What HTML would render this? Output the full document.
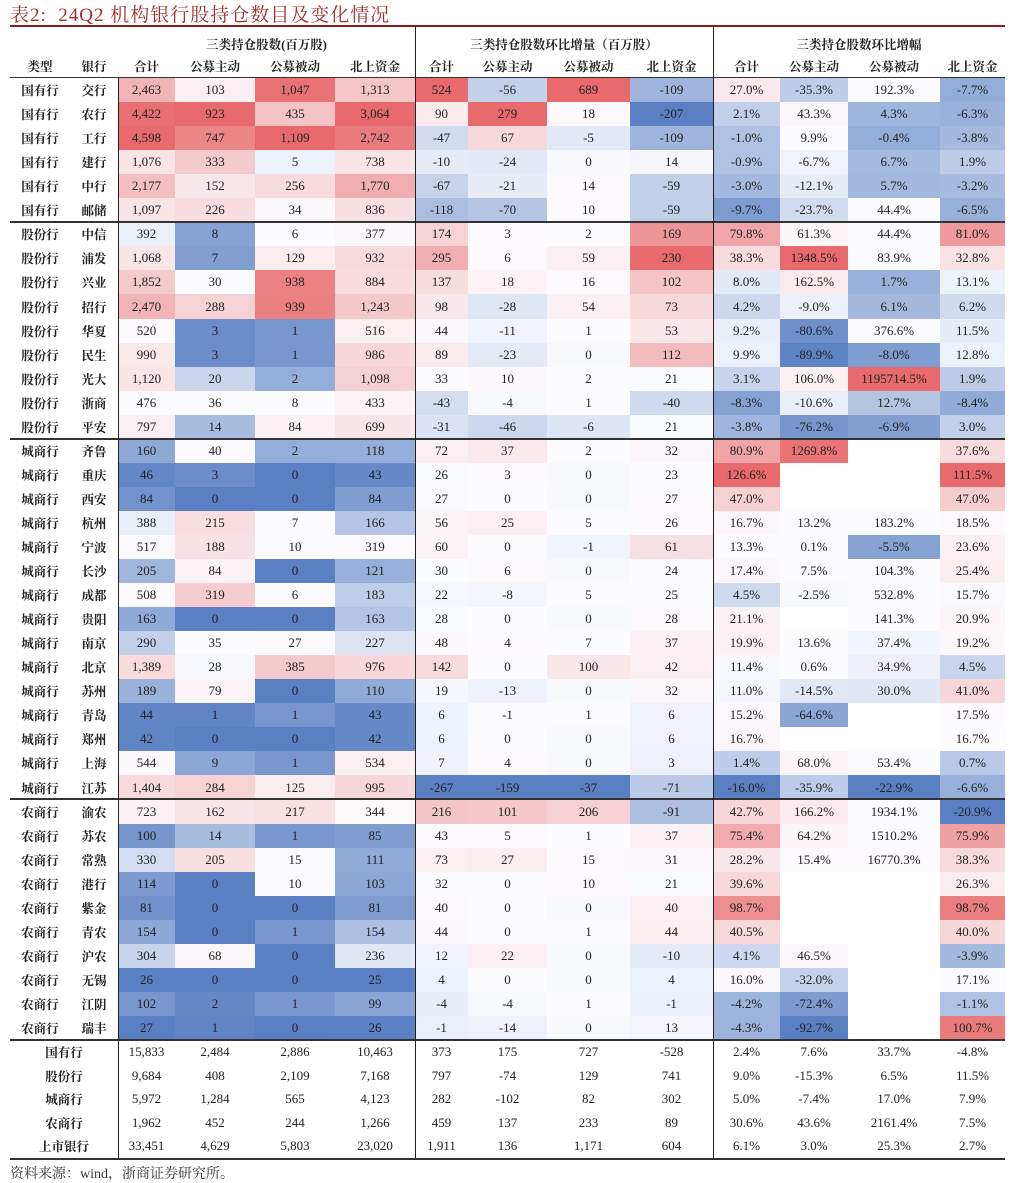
<!DOCTYPE html>
<html><head><meta charset="utf-8">
<style>
body{margin:0;background:#fff;width:1024px;height:1182px;position:relative;overflow:hidden;font-family:"Liberation Serif","Noto Serif CJK SC",serif;}
.t{position:absolute;left:10px;top:0;font-size:19px;color:#a0302e;font-family:"Liberation Serif","Noto Serif CJK SC",serif;letter-spacing:1px}
.c{position:absolute;display:flex;align-items:center;justify-content:center;font-size:13px;color:#222;white-space:nowrap}
.h{font-family:"Liberation Serif","Noto Serif CJK SC",serif;font-weight:bold;font-size:12.5px;color:#222}
.l{position:absolute;background:#222}
</style></head><body>
<div class="t">表2:&nbsp; 24Q2 机构银行股持仓数目及变化情况</div>
<div id="root"></div>
<div style="position:absolute;left:10px;top:1163px;font-size:14px;color:#333">资料来源：wind，浙商证券研究所。</div>
<script>
const rows=[
["国有行","交行","2,463","103","1,047","1,313","524","-56","689","-109","27.0%","-35.3%","192.3%","-7.7%"],
["国有行","农行","4,422","923","435","3,064","90","279","18","-207","2.1%","43.3%","4.3%","-6.3%"],
["国有行","工行","4,598","747","1,109","2,742","-47","67","-5","-109","-1.0%","9.9%","-0.4%","-3.8%"],
["国有行","建行","1,076","333","5","738","-10","-24","0","14","-0.9%","-6.7%","6.7%","1.9%"],
["国有行","中行","2,177","152","256","1,770","-67","-21","14","-59","-3.0%","-12.1%","5.7%","-3.2%"],
["国有行","邮储","1,097","226","34","836","-118","-70","10","-59","-9.7%","-23.7%","44.4%","-6.5%"],
["股份行","中信","392","8","6","377","174","3","2","169","79.8%","61.3%","44.4%","81.0%"],
["股份行","浦发","1,068","7","129","932","295","6","59","230","38.3%","1348.5%","83.9%","32.8%"],
["股份行","兴业","1,852","30","938","884","137","18","16","102","8.0%","162.5%","1.7%","13.1%"],
["股份行","招行","2,470","288","939","1,243","98","-28","54","73","4.2%","-9.0%","6.1%","6.2%"],
["股份行","华夏","520","3","1","516","44","-11","1","53","9.2%","-80.6%","376.6%","11.5%"],
["股份行","民生","990","3","1","986","89","-23","0","112","9.9%","-89.9%","-8.0%","12.8%"],
["股份行","光大","1,120","20","2","1,098","33","10","2","21","3.1%","106.0%","1195714.5%","1.9%"],
["股份行","浙商","476","36","8","433","-43","-4","1","-40","-8.3%","-10.6%","12.7%","-8.4%"],
["股份行","平安","797","14","84","699","-31","-46","-6","21","-3.8%","-76.2%","-6.9%","3.0%"],
["城商行","齐鲁","160","40","2","118","72","37","2","32","80.9%","1269.8%","","37.6%"],
["城商行","重庆","46","3","0","43","26","3","0","23","126.6%","","","111.5%"],
["城商行","西安","84","0","0","84","27","0","0","27","47.0%","","","47.0%"],
["城商行","杭州","388","215","7","166","56","25","5","26","16.7%","13.2%","183.2%","18.5%"],
["城商行","宁波","517","188","10","319","60","0","-1","61","13.3%","0.1%","-5.5%","23.6%"],
["城商行","长沙","205","84","0","121","30","6","0","24","17.4%","7.5%","104.3%","25.4%"],
["城商行","成都","508","319","6","183","22","-8","5","25","4.5%","-2.5%","532.8%","15.7%"],
["城商行","贵阳","163","0","0","163","28","0","0","28","21.1%","","141.3%","20.9%"],
["城商行","南京","290","35","27","227","48","4","7","37","19.9%","13.6%","37.4%","19.2%"],
["城商行","北京","1,389","28","385","976","142","0","100","42","11.4%","0.6%","34.9%","4.5%"],
["城商行","苏州","189","79","0","110","19","-13","0","32","11.0%","-14.5%","30.0%","41.0%"],
["城商行","青岛","44","1","1","43","6","-1","1","6","15.2%","-64.6%","","17.5%"],
["城商行","郑州","42","0","0","42","6","0","0","6","16.7%","","","16.7%"],
["城商行","上海","544","9","1","534","7","4","0","3","1.4%","68.0%","53.4%","0.7%"],
["城商行","江苏","1,404","284","125","995","-267","-159","-37","-71","-16.0%","-35.9%","-22.9%","-6.6%"],
["农商行","渝农","723","162","217","344","216","101","206","-91","42.7%","166.2%","1934.1%","-20.9%"],
["农商行","苏农","100","14","1","85","43","5","1","37","75.4%","64.2%","1510.2%","75.9%"],
["农商行","常熟","330","205","15","111","73","27","15","31","28.2%","15.4%","16770.3%","38.3%"],
["农商行","港行","114","0","10","103","32","0","10","21","39.6%","","","26.3%"],
["农商行","紫金","81","0","0","81","40","0","0","40","98.7%","","","98.7%"],
["农商行","青农","154","0","1","154","44","0","1","44","40.5%","","","40.0%"],
["农商行","沪农","304","68","0","236","12","22","0","-10","4.1%","46.5%","","-3.9%"],
["农商行","无锡","26","0","0","25","4","0","0","4","16.0%","-32.0%","","17.1%"],
["农商行","江阴","102","2","1","99","-4","-4","1","-1","-4.2%","-72.4%","","-1.1%"],
["农商行","瑞丰","27","1","0","26","-1","-14","0","13","-4.3%","-92.7%","","100.7%"]];
const sums=[
["国有行","15,833","2,484","2,886","10,463","373","175","727","-528","2.4%","7.6%","33.7%","-4.8%"],
["股份行","9,684","408","2,109","7,168","797","-74","129","741","9.0%","-15.3%","6.5%","11.5%"],
["城商行","5,972","1,284","565","4,123","282","-102","82","302","5.0%","-7.4%","17.0%","7.9%"],
["农商行","1,962","452","244","1,266","459","137","233","89","30.6%","43.6%","2161.4%","7.5%"],
["上市银行","33,451","4,629","5,803","23,020","1,911","136","1,171","604","6.1%","3.0%","25.3%","2.7%"]];
const edges=[118,175,255,335,415,468,547,630,713,780,848,940,1005];
const R=document.getElementById('root');let H='';
function cell(x,y,w,h,txt,bg,cls){H+=`<div class="c ${cls||''}" style="left:${x}px;top:${y}px;width:${w}px;height:${h}px;${bg?'background:'+bg:''}">${txt}</div>`;}
function line(x,y,w,h,c){H+=`<div class="l" style="left:${x}px;top:${y}px;width:${w}px;height:${h}px;${c?'background:'+c:''}"></div>`;}
// headers
cell(118,32,297,24,"三类持仓股数(百万股)","","h");
cell(415,32,298,24,"三类持仓股数环比增量（百万股）","","h");
cell(713,32,292,24,"三类持仓股数环比增幅","","h");
cell(10,54,60,24,"类型","","h");cell(70,54,48,24,"银行","","h");
const hn=["合计","公募主动","公募被动","北上资金"];
for(let i=0;i<12;i++)cell(edges[i],54,edges[i+1]-edges[i],24,hn[i%4],"","h");
// colors
function num(s){return s===""?null:parseFloat(s.replace(/,/g,'').replace('%',''));}
const RED=[232,106,108],WH=[252,252,255],BL=[90,128,195];
function mix(a,b,t){return `rgb(${a.map((v,i)=>Math.round(v+(b[i]-v)*t)).join(',')})`;}
const cols=[];
for(let j=0;j<12;j++){const v=rows.map(r=>num(r[j+2])).filter(x=>x!==null).sort((a,b)=>a-b);
const p=(v.length-1)*0.5,lo=Math.floor(p),med=v[lo]+(v[Math.ceil(p)]-v[lo])*(p-lo);
cols.push({min:v[0],max:v[v.length-1],med});}
function color(j,s){const x=num(s);if(x===null)return "#fff";const c=cols[j];
if(x>=c.med){const t=c.max>c.med?(x-c.med)/(c.max-c.med):0;return mix(WH,RED,t);}
const t=c.med>c.min?(c.med-x)/(c.med-c.min):0;return mix(WH,BL,t);}
const y0=78,rh=24.05;
rows.forEach((r,i)=>{const y=Math.round(y0+i*rh),h=Math.round(y0+(i+1)*rh)-y;
cell(10,y,60,h,r[0],"","h");cell(70,y,48,h,r[1],"","h");
for(let j=0;j<12;j++)cell(edges[j],y,edges[j+1]-edges[j],h,r[j+2],color(j,r[j+2]));});
const ys=1040,sh=23.6;
sums.forEach((r,i)=>{const y=Math.round(ys+i*sh),h=Math.round(ys+(i+1)*sh)-y;
cell(10,y,108,h,r[0],"","h");
for(let j=0;j<12;j++)cell(edges[j],y,edges[j+1]-edges[j],h,r[j+1],"");});
// lines
line(10,25,995,2,"#8b1a1a");
line(10,77,995,1,"#333");
[222,439,799,1040].forEach(y=>line(10,y-1,995,1.5,"#333"));
line(10,1158,995,1.5,"#333");
line(118,77,1,1081);line(415,26,1,1132);line(713,26,1,1132);
R.innerHTML=H;
</script>
</body></html>
